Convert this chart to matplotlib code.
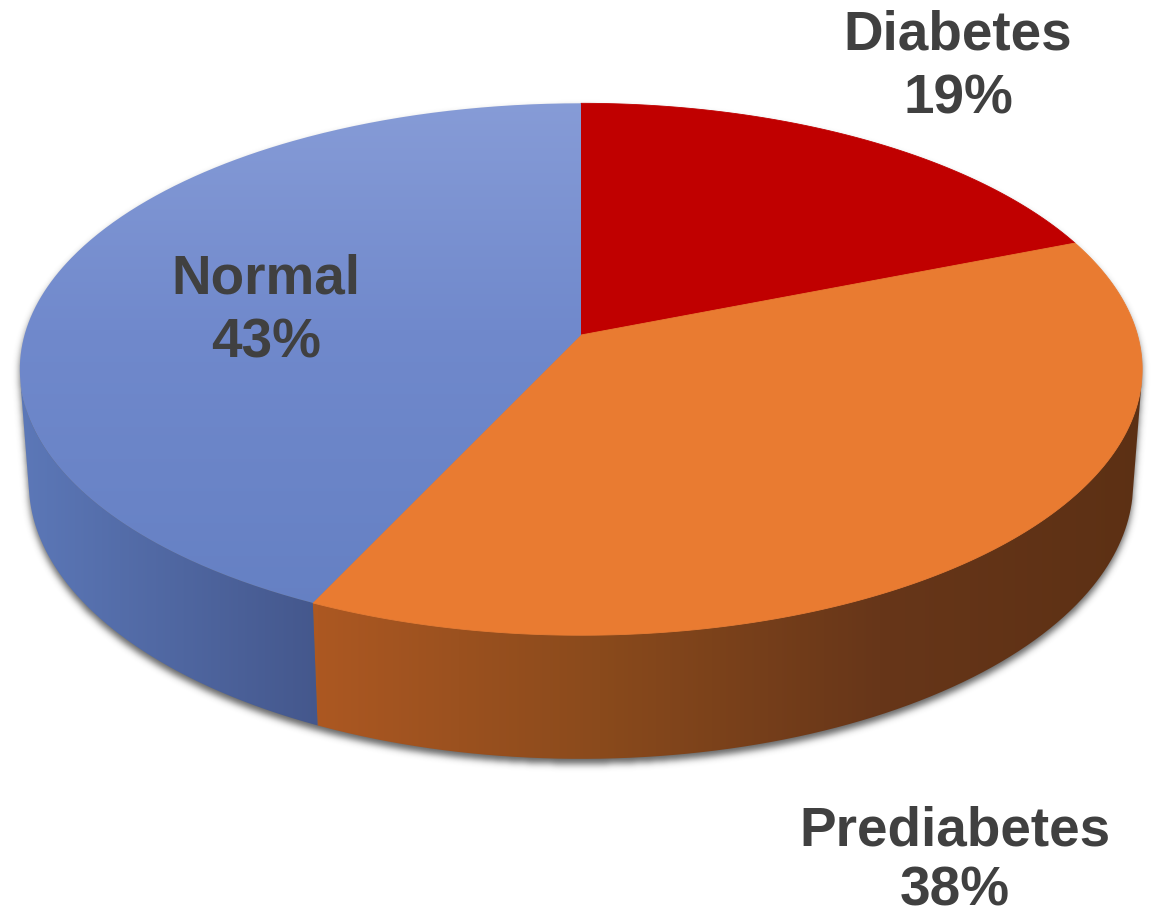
import numpy as np
import matplotlib
matplotlib.use("Agg")
import matplotlib.pyplot as plt
from matplotlib.path import Path
from matplotlib.patches import PathPatch
from matplotlib.colors import to_rgb

# ---- data -------------------------------------------------------------
categories = ["Diabetes", "Prediabetes", "Normal"]
shares = [19, 38, 43]

# ---- canvas -----------------------------------------------------------
W, H = 1159, 917
fig = plt.figure(figsize=(W / 100, H / 100), dpi=100)
ax = fig.add_axes([0, 0, 1, 1])
ax.set_xlim(0, W)
ax.set_ylim(H, 0)
ax.axis("off")

# ---- perspective camera for a tilted disc ------------------------------
CX, CY = 581, 335          # screen position of the disc centre
SIN_T, COS_T = 0.47, 0.8827
DIST = 6.85
FOCAL = 3812
DEPTH = 0.233              # disc thickness (in radii)


def project(phi, z):
    X = np.cos(phi)
    Y = np.sin(phi)
    yc = Y * SIN_T + z * COS_T
    zc = DIST + Y * COS_T - z * SIN_T
    return CX + FOCAL * X / zc, CY - FOCAL * yc / zc


def arc(a, b, z, n=400):
    phi = np.linspace(a, b, n)
    return np.column_stack(project(phi, z))


def hgradient(stops):
    xs = np.arange(W) + 0.5
    px = [s[0] for s in stops]
    cols = np.array([to_rgb(s[1]) for s in stops])
    row = np.column_stack([np.interp(xs, px, cols[:, i]) for i in range(3)])
    return np.repeat(row[None, :, :], H, axis=0)


def vgradient(stops):
    ys = np.arange(H) + 0.5
    py = [s[0] for s in stops]
    cols = np.array([to_rgb(s[1]) for s in stops])
    col = np.column_stack([np.interp(ys, py, cols[:, i]) for i in range(3)])
    return np.repeat(col[:, None, :], W, axis=1)


def fill_gradient(path, img, z):
    clip = PathPatch(path, facecolor="none", edgecolor="none",
                     transform=ax.transData)
    ax.add_patch(clip)
    im = ax.imshow(img, extent=(0, W, H, 0), origin="upper",
                   interpolation="bilinear", zorder=z)
    im.set_clip_path(clip)


# wedge boundaries: start at the far point and run clockwise
bounds = np.pi / 2 - 2 * np.pi * np.concatenate([[0], np.cumsum(shares)]) / 100.0

# visible part of the rim (between the silhouette generators)
d = DIST * COS_T
vis_lo = -np.pi + np.arcsin(1 / d)
vis_hi = -np.arcsin(1 / d)

top_style = {
    "Diabetes": ("flat", "#C00000"),
    "Prediabetes": ("flat", "#E97B31"),
    "Normal": ("v", [(100, "#879CD7"), (330, "#7089CC"), (620, "#6580C3")]),
}
side_style = {
    "Diabetes": [(0, "#7A0000"), (W, "#7A0000")],
    "Prediabetes": [(318, "#AC5822"), (600, "#8A4A1C"), (880, "#673619"),
                    (1150, "#5C3014")],
    "Normal": [(20, "#5C78B8"), (320, "#44578C")],
}

# ---- soft drop shadow under the whole disc ------------------------------
yy, xx = np.mgrid[0:H, 0:W]
pts = np.column_stack([xx.ravel() + 0.5, yy.ravel() + 0.5])
full = np.linspace(0, 2 * np.pi, 600)
top_ell = Path(np.column_stack(project(full, 0.0)))
bot_ell = Path(np.column_stack(project(full, -DEPTH)))
rim = np.vstack([arc(vis_lo, vis_hi, 0.0), arc(vis_hi, vis_lo, -DEPTH)])
rim_path = Path(rim)
mask = (top_ell.contains_points(pts) | bot_ell.contains_points(pts)
        | rim_path.contains_points(pts)).reshape(H, W).astype(float)


def blur(a, sigma):
    r = int(3 * sigma)
    k = np.exp(-0.5 * (np.arange(-r, r + 1) / sigma) ** 2)
    k /= k.sum()
    p = np.pad(a, ((0, 0), (r, r)))
    out = sum(w * p[:, i:i + a.shape[1]] for i, w in enumerate(k))
    p = np.pad(out, ((r, r), (0, 0)))
    return sum(w * p[i:i + a.shape[0], :] for i, w in enumerate(k))


shadow = np.roll(mask, 5, axis=0)
shadow = blur(shadow, 3.5)
rgba = np.zeros((H, W, 4))
rgba[..., :3] = 0.25
rgba[..., 3] = shadow * 0.8
ax.imshow(rgba, extent=(0, W, H, 0), origin="upper", zorder=1)

# ---- rim (side walls) ---------------------------------------------------
for name, a, b in zip(categories, bounds[:-1], bounds[1:]):
    lo = max(min(a, b), vis_lo)
    hi = min(max(a, b), vis_hi)
    if hi <= lo:
        continue
    poly = np.vstack([arc(lo, hi, 0.0), arc(hi, lo, -DEPTH)])
    fill_gradient(Path(poly), hgradient(side_style[name]), 2)

# ---- top faces ----------------------------------------------------------
for name, a, b in zip(categories, bounds[:-1], bounds[1:]):
    poly = np.vstack([[CX, CY], arc(a, b, 0.0), [CX, CY]])
    kind, spec = top_style[name]
    if kind == "flat":
        ax.add_patch(PathPatch(Path(poly), facecolor=spec, edgecolor=spec,
                               linewidth=0.6, zorder=3))
    else:
        fill_gradient(Path(poly), vgradient(spec), 3)

# ---- labels -------------------------------------------------------------
label_pos = {
    "Diabetes": (958, 50, 113),
    "Prediabetes": (955, 846, 905),
    "Normal": (266, 293, 357),
}
font = dict(family="Liberation Sans", weight="bold", fontsize=39.5,
            color="#404040", ha="center", va="baseline", zorder=5)
for name, v in zip(categories, shares):
    x, y1, y2 = label_pos[name]
    ax.text(x, y1, name, **font)
    ax.text(x, y2, f"{v}%", **font)

fig.savefig("out.png", dpi=100, facecolor="white")
